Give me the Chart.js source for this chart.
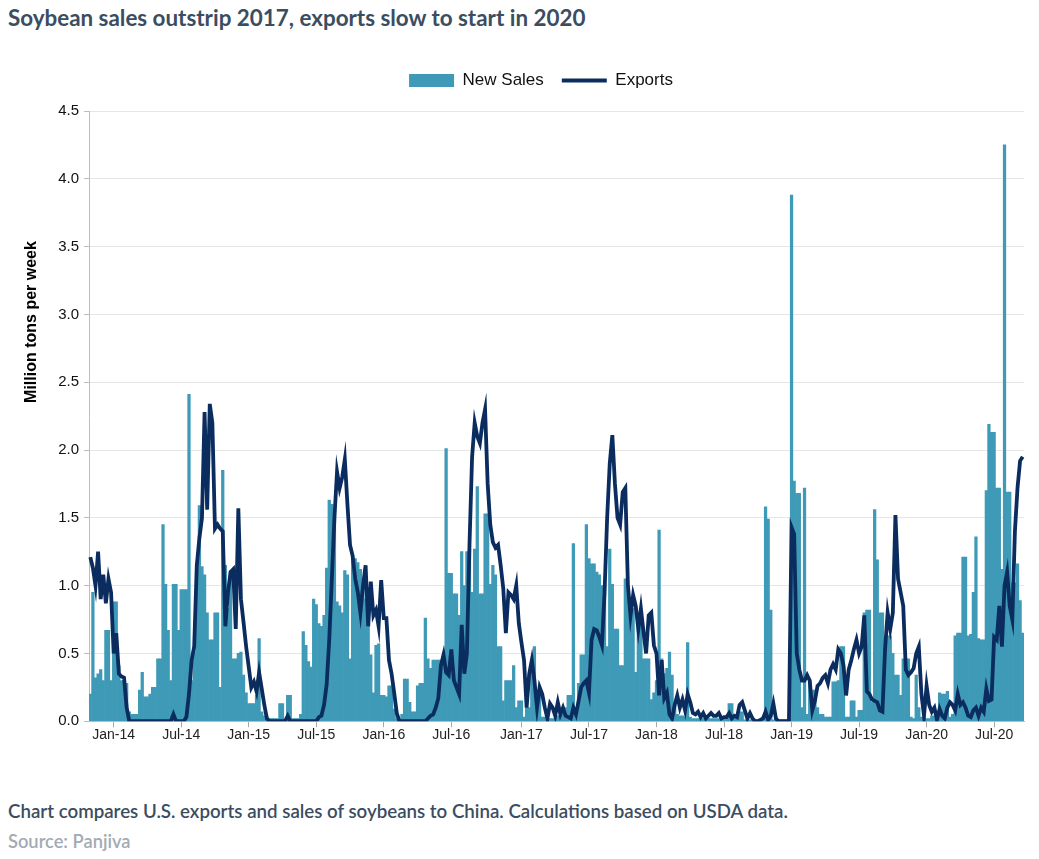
<!DOCTYPE html>
<html>
<head>
<meta charset="utf-8">
<script src="https://cdn.jsdelivr.net/npm/chart.js@4.4.0/dist/chart.umd.min.js"></script>
<style>
  body { margin: 0; background: #fff; width: 1039px; height: 859px; overflow: hidden; font-family: Lato, 'Noto Sans', sans-serif; }
  #title { position: absolute; left: 8px; top: 4px; font-size: 22.4px; font-weight: 700; color: #3b4d61; }
  #wrap { position: absolute; left: 0; top: 54px; width: 1039px; height: 690px; }
  #note { position: absolute; left: 8px; top: 800px; font-size: 18.7px; font-weight: 600; color: #3b4d61; }
  #source { position: absolute; left: 8px; top: 830px; font-size: 18.3px; font-weight: 600; color: #a3abb3; }
</style>
</head>
<body>
<div id="title">Soybean sales outstrip 2017, exports slow to start in 2020</div>
<div id="wrap"><canvas id="soyChart"></canvas></div>
<div id="note">Chart compares U.S. exports and sales of soybeans to China. Calculations based on USDA data.</div>
<div id="source">Source: Panjiva</div>
<script>
// weekly data (million tons), first week shown is early Nov 2013
var firstWeek = '2013-11-01';
var tickMonths = ['Jan', 'Jul'];
var monthNames = ['Jan','Feb','Mar','Apr','May','Jun','Jul','Aug','Sep','Oct','Nov','Dec'];
var yTitle = 'Million tons per week';

var newSales = [
  0.2, 0.95, 0.32, 0.35, 0.38, 0.3, 0.67, 0.67, 0.3, 0.88, 0.88, 0.41, 0.3, 0.3, 0.28, 0.07, 0.05, 0.05, 0.05, 0.23,
  0.36, 0.18, 0.18, 0.2, 0.25, 0.25, 0.46, 0.46, 1.45, 1.01, 0.67, 0.3, 1.01, 1.01, 0.67, 0.97,
  0.97, 0.97, 2.41, 0.3, 0.5, 1.0, 1.59, 1.14, 1.08, 0.8, 0.6, 0.6, 0.8, 0.8, 0.25, 1.85, 1.15, 0.83, 1.11, 0.46,
  0.46, 0.5, 0.51, 0.34, 0.21, 0.13, 0.13, 0.13, 0.19, 0.61, 0.07, 0.04, 0.03, 0.02, 0.02, 0.02,
  0.02, 0.13, 0.13, 0.02, 0.19, 0.19, 0.02, 0.02, 0.02, 0.05, 0.66, 0.56, 0.44, 0.4, 0.9, 0.86, 0.72, 0.7, 0.78, 1.13,
  1.63, 1.6, 1.52, 0.88, 0.85, 0.8, 1.11, 1.08, 0.46, 1.22, 1.2, 1.17, 1.12, 1.03, 0.9, 0.85,
  0.49, 0.21, 0.56, 0.57, 0.19, 0.19, 0.18, 0.26, 0.26, 0.09, 0.02, 0.01, 0.05, 0.31, 0.31, 0.14, 0.07, 0.07, 0.26, 0.28,
  0.28, 0.76, 0.46, 0.39, 0.45, 0.45, 0.45, 0.45, 0.41, 2.01, 1.09, 1.09, 0.94, 0.94, 0.78, 1.25, 1.0,
  1.25, 1.27, 0.95, 1.27, 1.73, 0.94, 0.94, 1.53, 1.53, 1.01, 1.15, 1.08, 0.55, 0.55, 0.15, 0.3, 0.3, 0.3, 0.41, 0.1,
  0.15, 0.15, 0.03, 0.1, 0.1, 0.36, 0.55, 0.19, 0.19, 0.03, 0.03, 0.02, 0.02, 0.02, 0.02,
  0.04, 0.04, 0.05, 0.1, 0.19, 0.19, 1.31, 0.02, 0.28, 0.49, 0.49, 1.45, 1.2, 1.16, 1.16, 1.1, 1.08, 1.0, 1.0, 0.55,
  1.27, 1.01, 0.68, 0.68, 0.41, 0.41, 1.05, 0.93, 0.83, 0.83, 0.36, 0.78, 0.78, 0.46, 0.46, 0.46,
  0.16, 0.21, 0.3, 1.41, 0.46, 0.35, 0.39, 0.51, 0.34, 0.12, 0.05, 0.04, 0.04, 0.03, 0.58, 0.03, 0.02, 0.02, 0.02, 0.02,
  0.02, 0.02, 0.02, 0.02, 0.02, 0.02, 0.02, 0.02, 0.02, 0.02, 0.13, 0.13, 0.02, 0.02, 0.07, 0.07,
  0.01, 0.02, 0.01, 0.01, 0.01, 0.01, 0.01, 0.01, 1.58, 1.49, 0.82, 0.01, 0.01, 0.01, 0.01, 0.01, 0.01, 0.01, 3.88, 1.77,
  1.68, 1.68, 0.1, 1.72, 0.05, 0.29, 0.23, 0.23, 0.1, 0.05, 0.05, 0.03, 0.03, 0.03, 0.29, 0.29, 0.3,
  0.55, 0.55, 0.03, 0.03, 0.15, 0.15, 0.03, 0.08, 0.08, 0.8, 0.82, 0.82, 0.14, 1.56, 1.19, 0.8, 0.8, 0.39, 0.63, 0.63,
  0.5, 0.34, 0.34, 0.19, 0.46, 0.46, 0.46, 0.03, 0.02, 0.34, 0.1, 0.03, 0.03, 0.02, 0.02,
  0.04, 0.04, 0.04, 0.21, 0.2, 0.2, 0.22, 0.03, 0.05, 0.63, 0.65, 0.65, 1.21, 1.21, 0.63, 0.64, 0.95, 1.36, 0.61, 0.6,
  0.6, 1.7, 2.19, 2.13, 2.13, 1.72, 1.72, 1.12, 4.25, 1.69, 1.69, 1.02, 1.02, 1.16, 0.89, 0.65
];

var exportsData = [
  1.21, 1.13, 1.0, 1.25, 0.9, 1.08, 0.87, 1.05, 0.95, 0.5, 0.65, 0.35, 0.33, 0.32, 0.1, 0, 0, 0, 0, 0,
  0, 0, 0, 0, 0, 0, 0, 0, 0, 0, 0, 0, 0.05, 0, 0, 0,
  0, 0.03, 0.2, 0.45, 0.55, 1.15, 1.35, 1.5, 2.28, 1.56, 2.34, 2.2, 1.42, 1.45, 1.42, 1.4, 0.7, 0.95, 1.1, 1.12,
  0.68, 1.57, 0.9, 0.73, 0.55, 0.4, 0.25, 0.29, 0.22, 0.36, 0.24, 0.12, 0.02, 0, 0, 0,
  0, 0, 0, 0, 0.04, 0, 0, 0, 0, 0, 0, 0, 0, 0, 0, 0, 0.03, 0.04, 0.12, 0.27,
  0.6, 1.05, 1.5, 1.84, 1.72, 1.8, 1.93, 1.6, 1.3, 1.22, 1.05, 0.95, 0.8, 1.0, 1.15, 0.7,
  1.03, 0.78, 0.82, 0.7, 1.04, 0.76, 0.76, 0.45, 0.35, 0.21, 0.06, 0, 0, 0, 0, 0, 0, 0, 0, 0,
  0, 0, 0.02, 0.04, 0.05, 0.1, 0.17, 0.41, 0.49, 0.36, 0.34, 0.53, 0.3, 0.25, 0.2, 0.71, 0.35,
  0.5, 1.3, 1.95, 2.2, 2.1, 2.05, 2.2, 2.3, 1.75, 1.45, 1.32, 1.28, 1.3, 1.15, 0.98, 0.65, 0.95, 0.93, 0.9, 1.0,
  0.72, 0.58, 0.45, 0.1, 0.35, 0.45, 0.3, 0.1, 0.25, 0.2, 0.1, 0.02, 0.13, 0.1, 0.04,
  0.14, 0.05, 0.1, 0.04, 0.03, 0.02, 0.1, 0.05, 0.15, 0.25, 0.28, 0.3, 0.21, 0.6, 0.68, 0.67, 0.62, 0.56, 0.95, 1.5,
  1.9, 2.11, 1.75, 1.5, 1.45, 1.69, 1.72, 1.0, 0.78, 0.93, 0.85, 0.68, 0.83, 0.66, 0.5, 0.78,
  0.8, 0.56, 0.5, 0.19, 0.45, 0.17, 0.21, 0.05, 0.02, 0.12, 0.19, 0.1, 0.16, 0.08, 0.2, 0.14, 0.06, 0.05, 0.07, 0.03,
  0.06, 0.02, 0.04, 0.06, 0.04, 0.04, 0.06, 0.02, 0.03, 0.03, 0.06, 0.02, 0.04, 0.03, 0.12, 0.14,
  0.08, 0.02, 0.06, 0.02, 0, 0, 0.01, 0.02, 0.07, 0.01, 0.04, 0.13, 0.02, 0, 0, 0, 0, 0, 1.43, 1.38,
  0.5, 0.38, 0.3, 0.3, 0.34, 0.3, 0.08, 0.15, 0.26, 0.28, 0.32, 0.34, 0.28, 0.38, 0.42, 0.38, 0.53,
  0.5, 0.41, 0.19, 0.38, 0.45, 0.53, 0.6, 0.5, 0.55, 0.78, 0.22, 0.2, 0.16, 0.15, 0.14, 0.08, 0.07, 0.53, 0.8, 0.68,
  0.8, 1.52, 1.05, 0.95, 0.85, 0.38, 0.34, 0.36, 0.39, 0.5, 0.55, 0.2, 0.04, 0.26, 0.12,
  0.07, 0.1, 0.01, 0.09, 0.04, 0.02, 0.1, 0.14, 0.12, 0.08, 0.2, 0.12, 0.14, 0.1, 0.04, 0.03, 0.08, 0.1, 0.04, 0.1,
  0.07, 0.24, 0.15, 0.16, 0.62, 0.6, 0.85, 0.55, 1.0, 1.1, 0.85, 0.75, 1.4, 1.72, 1.92, 1.95
];

// week dates for the category axis
var weeks = [];
var start = new Date(firstWeek + 'T00:00:00Z');
for (var i = 0; i < newSales.length; i++) {
  weeks.push(new Date(start.getTime() + i * 7 * 86400000));
}
var labels = weeks.map(function (d) { return d.toISOString().slice(0, 10); });

function tickText(i) {
  var d = weeks[i];
  if (!d) return '';
  var m = monthNames[d.getUTCMonth()];
  if (tickMonths.indexOf(m) < 0 || d.getUTCDate() > 7) return '';
  return m + '-' + String(d.getUTCFullYear()).slice(2);
}

// legend sits a bit right of centre with extra room under it; y title drawn by hand
var layoutTweaks = {
  id: 'layoutTweaks',
  beforeInit: function (chart) {
    var fit = chart.legend.fit;
    chart.legend.fit = function () {
      fit.bind(chart.legend)();
      this.height += 12;
    };
  },
  afterLayout: function (chart) {
    chart.legend.left += 29;
    chart.legend.right += 29;
  },
  afterDraw: function (chart) {
    var c = chart.ctx;
    c.save();
    c.translate(32, 268);
    c.rotate(-Math.PI / 2);
    c.font = "bold 16px 'Liberation Sans', Arial, sans-serif";
    c.fillStyle = '#000';
    c.textAlign = 'center';
    c.textBaseline = 'middle';
    c.fillText(yTitle, 0, 0);
    c.restore();
  }
};

var ctx = document.getElementById('soyChart').getContext('2d');
var soyChart = new Chart(ctx, {
  type: 'bar',
  data: {
    labels: labels,
    datasets: [{
      type: 'bar',
      label: 'New Sales',
      data: newSales,
      backgroundColor: '#3e9ab6',
      borderWidth: 0,
      barPercentage: 1.0,
      categoryPercentage: 1.0,
      order: 2
    }, {
      type: 'line',
      label: 'Exports',
      data: exportsData,
      borderColor: '#0b2c5f',
      backgroundColor: '#0b2c5f',
      borderWidth: 3.8,
      pointRadius: 0,
      tension: 0,
      order: 1
    }]
  },
  plugins: [layoutTweaks],
  options: {
    responsive: true,
    maintainAspectRatio: false,
    animation: false,
    layout: { padding: { left: 0, right: 15, top: 0, bottom: 0 } },
    plugins: {
      tooltip: { enabled: false },
      legend: {
        position: 'top',
        labels: {
          usePointStyle: true,
          pointStyleWidth: 45,
          boxHeight: 13,
          padding: 18,
          color: '#111',
          font: { family: "'Liberation Sans', Arial, sans-serif", size: 17 },
          generateLabels: function (chart) {
            return chart.data.datasets.map(function (ds, i) {
              var isLine = ds.type === 'line';
              return {
                text: ds.label,
                fillStyle: ds.backgroundColor,
                strokeStyle: isLine ? ds.borderColor : ds.backgroundColor,
                lineWidth: isLine ? 4 : 0,
                pointStyle: isLine ? 'line' : 'rect',
                fontColor: '#111',
                datasetIndex: i
              };
            });
          }
        }
      }
    },
    scales: {
      x: {
        ticks: {
          autoSkip: false,
          maxRotation: 0,
          minRotation: 0,
          padding: 0,
          color: '#222',
          font: { family: "'Liberation Sans', Arial, sans-serif", size: 14 },
          callback: function (v, i) { return tickText(i); }
        },
        grid: {
          drawOnChartArea: false,
          offset: false,
          tickLength: 6,
          color: function (c) { return tickText(c.index) ? '#aaa' : 'rgba(0,0,0,0)'; }
        },
        border: { color: '#bdbdbd' }
      },
      y: {
        min: 0,
        max: 4.5,
        afterFit: function (scale) { scale.width = 89; },
        ticks: {
          stepSize: 0.5,
          padding: 5,
          color: '#111',
          font: { family: "'Liberation Sans', Arial, sans-serif", size: 15 },
          callback: function (v) { return v.toFixed(1); }
        },
        grid: { color: '#e6e6e6', tickLength: 5, tickColor: '#bdbdbd' },
        border: { color: '#bdbdbd' }
      }
    }
  }
});
</script>
</body>
</html>
